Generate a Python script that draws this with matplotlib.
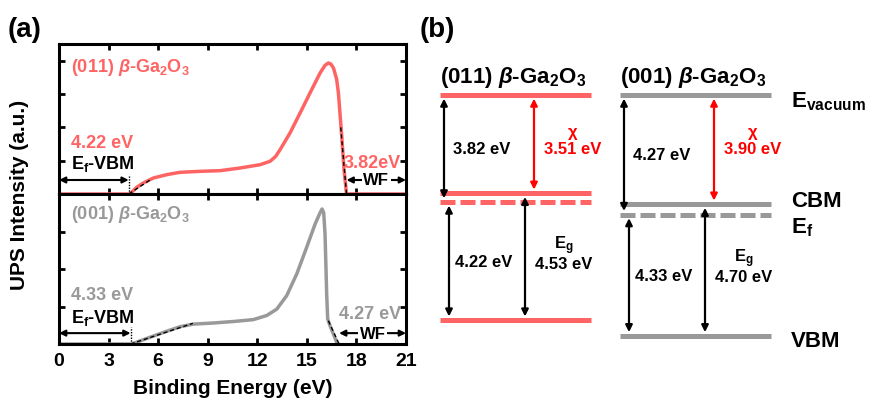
"""
UPS spectra (a) and energy band diagrams (b) of (011) and (001) beta-Ga2O3.
Outputs: out.png
"""

import matplotlib

matplotlib.use("Agg")
import matplotlib.pyplot as plt

plt.rcParams["font.family"] = ["Liberation Sans", "DejaVu Sans"]
plt.rcParams["font.weight"] = "bold"
plt.rcParams["axes.labelweight"] = "bold"
plt.rcParams["mathtext.fontset"] = "custom"
plt.rcParams["mathtext.rm"] = "Liberation Sans:bold"
plt.rcParams["mathtext.it"] = "Liberation Sans:italic:bold"
plt.rcParams["mathtext.bf"] = "Liberation Sans:bold"

RED = "#FF6464"
GRAY = "#999999"
HE_I = 21.22  # photon energy, eV

# sample values
sample_names = [r"(011) $\mathit{\beta}$-Ga$_\mathrm{2}$O$_\mathrm{3}$",
                r"(001) $\mathit{\beta}$-Ga$_\mathrm{2}$O$_\mathrm{3}$"]
ef_vbm = [4.22, 4.33]
work_fn = [3.82, 4.27]
chi = [3.51, 3.90]
band_gap = [4.53, 4.70]

# UPS spectra (binding energy, intensity a.u.)
e_011 = [0, 4.30, 4.70, 5.10, 5.71, 6.52, 7.32, 8.53, 9.75, 10.96, 12.17, 12.77,
         13.10, 13.38, 13.98, 14.59, 15.19, 15.80, 16.10, 16.30, 16.45, 16.61,
         16.80, 16.91, 17.11, 17.25, 17.40, 21.0]
i_011 = [0, 0, 0.20, 0.33, 0.48, 0.58, 0.65, 0.68, 0.70, 0.78, 0.88, 0.98,
         1.12, 1.33, 1.83, 2.43, 3.03, 3.63, 3.86, 3.93, 3.90, 3.78,
         3.45, 3.03, 1.74, 0.73, 0.0, 0.0]
e_001 = [0, 4.40, 5.51, 6.52, 7.32, 8.13, 9.34, 10.55, 11.76, 12.57, 13.18,
         13.78, 14.39, 14.99, 15.50, 15.80, 15.92, 16.02, 16.10, 16.20, 16.26,
         16.40, 16.60, 16.81, 16.90]
i_001 = [0, 0, 0.18, 0.34, 0.46, 0.53, 0.56, 0.60, 0.65, 0.76, 0.93,
         1.29, 1.87, 2.58, 3.20, 3.50, 3.60, 3.50, 2.93, 1.33, 0.67,
         0.49, 0.27, 0.04, 0.0]
# ends of the linear fits at the onset and the cutoff
fit_lo_011 = (5.6, 0.45)
fit_hi_011 = (17.05, 2.0)
fit_lo_001 = (8.1, 0.55)
fit_hi_001 = (16.30, 0.62)

W, H = 894, 410
fig = plt.figure(figsize=(W / 100, H / 100), dpi=100)


def spectrum_panel(rect, E, I, color, ylim, yticks, name, vbm, wf, fit_lo, fit_hi,
                   arrow_y, txt_y, dot_top):
    ax = fig.add_axes(rect)
    ax.plot(E, I, color=color, lw=2.5, zorder=2, solid_joinstyle="round")
    cut = HE_I - wf
    ax.plot([vbm, fit_lo[0]], [0, fit_lo[1]], color="k", ls=(0, (3, 2)), lw=1, zorder=3)
    ax.plot([fit_hi[0], cut], [fit_hi[1], 0], color="k", ls=(0, (3, 2)), lw=1, zorder=3)
    ax.plot([vbm, vbm], [0, dot_top], color="k", ls=(0, (1, 1)), lw=1, zorder=3)
    arrow = dict(arrowstyle="<|-|>", color="k", lw=1.5, mutation_scale=9,
                 shrinkA=0, shrinkB=0)
    ax.annotate("", xy=(0, arrow_y), xytext=(vbm, arrow_y), arrowprops=arrow)
    ax.annotate("", xy=(cut, arrow_y), xytext=(21, arrow_y), arrowprops=arrow)
    ax.text((cut + 21) / 2, arrow_y, "WF", ha="center", va="center", fontsize=12,
            bbox=dict(facecolor="white", edgecolor="none", pad=1.0), zorder=4)
    ax.text(0.035, txt_y[0], name, color=color, fontsize=13,
            transform=ax.transAxes, va="center")
    ax.text(0.035, txt_y[1], f"{vbm:.2f} eV", color=color, fontsize=13,
            transform=ax.transAxes, va="center")
    ax.text(0.035, txt_y[2], r"E$_\mathrm{f}$-VBM", color="k", fontsize=13,
            transform=ax.transAxes, va="center")
    ax.text(0.985, txt_y[3], txt_y[4].format(wf), color=color, fontsize=13,
            transform=ax.transAxes, va="center", ha="right")
    ax.set_xlim(0, 21)
    ax.set_ylim(*ylim)
    ax.set_xticks(range(0, 22, 3))
    ax.set_yticks(yticks)
    ax.tick_params(direction="in", length=4, width=2, top=True, right=True,
                   labelleft=False, labelsize=14, pad=6)
    for s in ax.spines.values():
        s.set_linewidth(2.2)
    return ax


ax_top = spectrum_panel([59 / W, 1 - 195 / H, 347 / W, 150 / H], e_011, i_011, RED,
                        (0, 4.5), [1, 2, 3, 4], sample_names[0], ef_vbm[0], work_fn[0],
                        fit_lo_011, fit_hi_011, 0.42,
                        (0.853, 0.34, 0.207, 0.213, "{:.2f}eV"), 0.55)
ax_top.tick_params(labelbottom=False)
ax_bot = spectrum_panel([59 / W, 1 - 345 / H, 347 / W, 150 / H], e_001, i_001, GRAY,
                        (0, 4), [1, 2, 3], sample_names[1], ef_vbm[1], work_fn[1],
                        fit_lo_001, fit_hi_001, 0.29,
                        (0.867, 0.333, 0.18, 0.20, "{:.2f} eV"), 0.45)
for lab in ax_bot.get_xticklabels():
    lab.set_fontweight("bold")
ax_bot.set_xlabel("Binding Energy (eV)", fontsize=15, labelpad=6)
fig.text(20 / W, 1 - 195 / H, "UPS Intensity (a.u.)", rotation=90, fontsize=15,
         ha="center", va="center")
fig.text(8 / W, 1 - 30 / H, "(a)", fontsize=20, va="center")

# (b) band diagrams; y is energy relative to the vacuum level (eV)
PX_PER_EV = 28
VAC_PX = 96
axb = fig.add_axes([420 / W, 0, 474 / W, 1])
axb.set_xlim(0, 474)
axb.set_ylim(-(H - VAC_PX) / PX_PER_EV, VAC_PX / PX_PER_EV)
axb.axis("off")
fig.text(420 / W, 1 - 30 / H, "(b)", fontsize=20, va="center")

col_x = [20, 200]
col_w = 151
col_color = [RED, GRAY]
pad = 0.13
for k in range(2):
    x0 = col_x[k]
    c = col_color[k]
    vac, cbm, ef = 0.0, -chi[k], -work_fn[k]
    vbm = ef - ef_vbm[k]
    for lvl, ls in [(vac, "-"), (cbm, "-"), (vbm, "-"), (ef, (0, (3, 1)))]:
        axb.plot([x0, x0 + col_w], [lvl, lvl], color=c, lw=3.6, ls=ls,
                 solid_capstyle="butt")
    axb.text(x0, -(77 - VAC_PX) / PX_PER_EV, sample_names[k], fontsize=16,
             va="center", ha="left")

    def darrow(x, top, bot, color):
        axb.annotate("", xy=(x, top - pad), xytext=(x, bot + pad),
                     arrowprops=dict(arrowstyle="<|-|>", color=color, lw=1.6,
                                     mutation_scale=10, shrinkA=0, shrinkB=0))

    darrow(x0 + 4, vac, ef, "k")
    darrow(x0 + 94, vac, cbm, "red")
    darrow(x0 + 9, ef, vbm, "k")
    darrow(x0 + 85, cbm, vbm, "k")
    axb.text(x0 + 13, (vac + ef) / 2, f"{work_fn[k]:.2f} eV", fontsize=12,
             va="center", ha="left")
    axb.text(x0 + 15, (ef + vbm) / 2, f"{ef_vbm[k]:.2f} eV", fontsize=12,
             va="center", ha="left")
    axb.text(x0 + 133, -(133 - VAC_PX) / PX_PER_EV, "χ", color="red",
             fontsize=12, va="center", ha="center")
    axb.text(x0 + 133, -(150 - VAC_PX) / PX_PER_EV, f"{chi[k]:.2f} eV",
             color="red", fontsize=12, va="center", ha="center")
    mid = (cbm + vbm) / 2
    axb.text(x0 + 124, mid + 12 / PX_PER_EV, r"E$_\mathrm{g}$", fontsize=12,
             va="center", ha="center")
    axb.text(x0 + 124, mid - 7 / PX_PER_EV, f"{band_gap[k]:.2f} eV", fontsize=12,
             va="center", ha="center")

right_labels = [(r"E$_\mathrm{vacuum}$", 107), ("CBM", 207),
                (r"E$_\mathrm{f}$", 233), ("VBM", 347)]
for txt, base_px in right_labels:
    axb.text(371, -(base_px - VAC_PX) / PX_PER_EV, txt, fontsize=16,
             va="baseline", ha="left")

fig.savefig("out.png", dpi=100)
